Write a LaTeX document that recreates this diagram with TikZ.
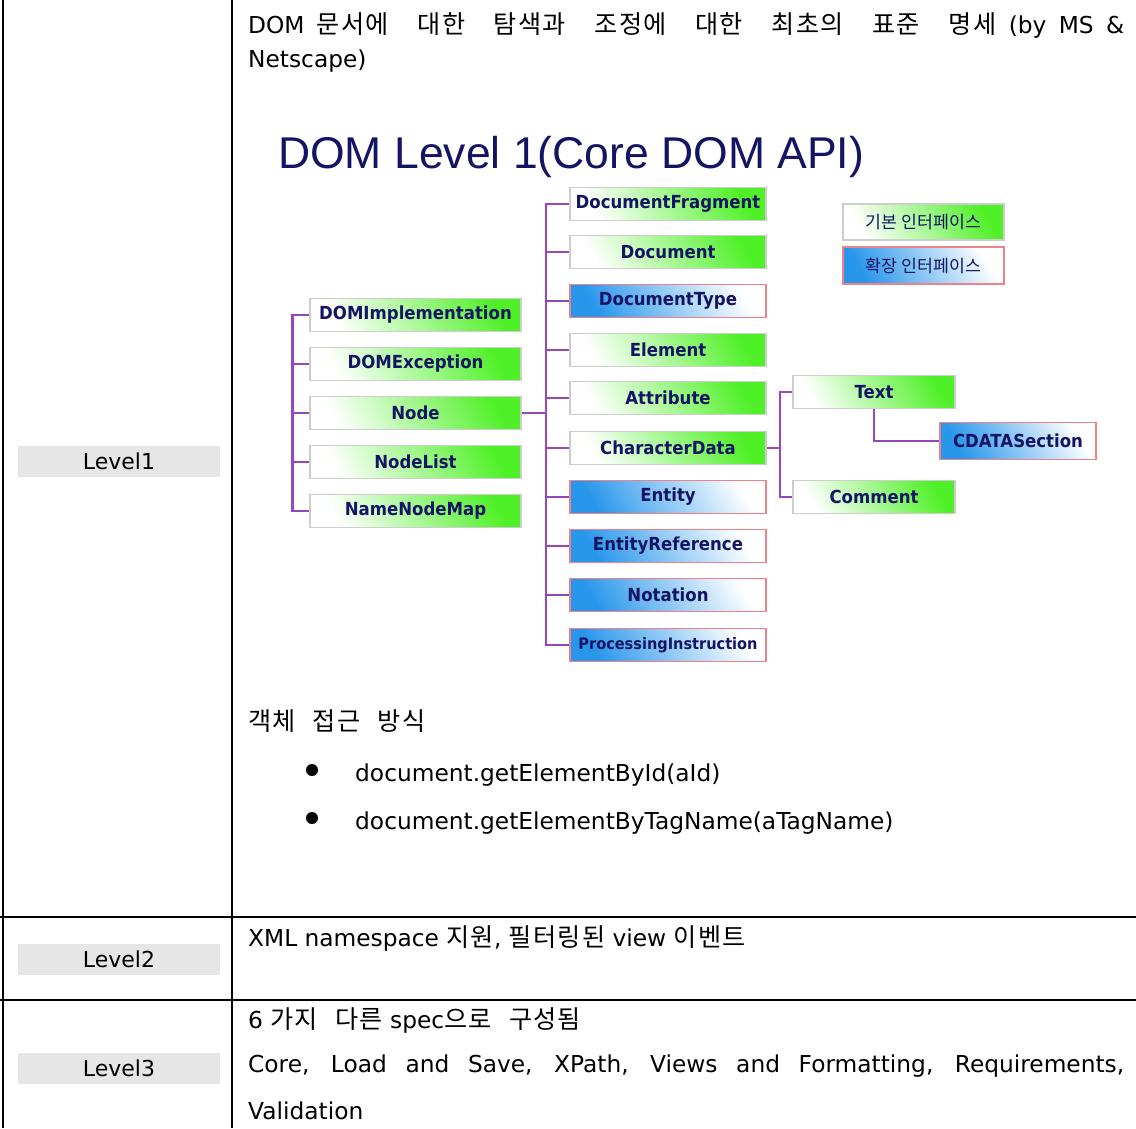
\documentclass[tikz,border=0pt]{standalone}
\usepackage{fontspec}
\setmainfont{DejaVu Sans}
\newfontfamily\krfont[Scale=1.08,WordSpace=2.5,LetterSpace=5]{Noto Sans CJK KR}
\newfontfamily\keyfont[Scale=1.08]{Noto Sans CJK KR}
\newfontfamily\boxfont[FakeStretch=0.92]{DejaVu Sans}
\newfontfamily\titlefont{Liberation Sans}
\definecolor{navy}{RGB}{20,20,100}
\definecolor{dgreen}{RGB}{80,240,40}
\definecolor{bblue}{RGB}{40,150,235}
\definecolor{pinkline}{RGB}{240,130,135}
\definecolor{boxgray}{RGB}{205,205,205}
\definecolor{purp}{RGB}{150,70,190}
\definecolor{lvlgray}{RGB}{230,230,230}
\tikzset{
  ifbox/.style={draw=boxgray, line width=1.5pt, minimum height=33pt, inner sep=0pt,
    text=navy, font=\boxfont\bfseries\fontsize{18}{18}\selectfont},
  basic/.style={ifbox, left color=white, right color=dgreen, shading angle=120},
  ext/.style={ifbox, draw=pinkline, left color=bblue, right color=white, shading angle=120},
  link/.style={draw=purp, line width=2.5pt},
  lvl/.style={fill=lvlgray, minimum width=202pt, minimum height=31pt, inner sep=0pt,
    font=\fontsize{22}{22}\selectfont},
  txt/.style={anchor=base west, inner sep=0pt, font=\fontsize{23.3}{28}\selectfont},
  rule/.style={line width=2pt}
}
\begin{document}
\begin{tikzpicture}[x=1pt,y=-1pt]
  \useasboundingbox (0,0) rectangle (1136,1128);
  \draw[rule] (3,0) -- (3,1128);
  \draw[rule] (232,0) -- (232,1128);
  \draw[rule] (0,917) -- (1136,917);
  \draw[rule] (0,1000) -- (1136,1000);

  \node[lvl] (lvone) at (119,461.5) {Level1};
  \node[lvl] (lvtwo) at (119,959.5) {Level2};
  \node[lvl] (lvthree) at (119,1068.5) {Level3};

  \node[txt] (intro) at (248,33) {\makebox[876pt][s]{DOM {\krfont 문서에 대한 탐색과 조정에 대한 최초의 표준 명세} (by MS \&}};
  \node[txt] (introb) at (248,67) {Netscape)};
  \node[txt, font=\titlefont\fontsize{44.5}{44}\selectfont, text=navy] (title) at (278,168) {DOM Level 1(Core DOM API)};

  \node[basic, minimum width=211pt] (impl) at (415.5,315) {DOMImplementation};
  \node[basic, minimum width=211pt] (exc) at (415.5,364) {DOMException};
  \node[basic, minimum width=211pt] (node) at (415.5,413) {Node};
  \node[basic, minimum width=211pt] (nlist) at (415.5,462) {NodeList};
  \node[basic, minimum width=211pt] (nmap) at (415.5,511) {NameNodeMap};

  \node[basic, minimum width=196pt] (frag) at (668,204) {DocumentFragment};
  \node[basic, minimum width=196pt] (doc) at (668,252) {Document};
  \node[ext, minimum width=196pt] (dtype) at (668,301) {DocumentType};
  \node[basic, minimum width=196pt] (elem) at (668,350) {Element};
  \node[basic, minimum width=196pt] (attr) at (668,398) {Attribute};
  \node[basic, minimum width=196pt] (chardata) at (668,448) {CharacterData};
  \node[ext, minimum width=196pt] (ent) at (668,497) {Entity};
  \node[ext, minimum width=196pt] (eref) at (668,546) {EntityReference};
  \node[ext, minimum width=196pt] (nota) at (668,595) {Notation};
  \node[ext, minimum width=196pt, font=\boxfont\bfseries\fontsize{15.8}{16}\selectfont] (pi) at (668,645) {ProcessingInstruction};

  \node[basic, minimum width=162pt] (text) at (874,392) {Text};
  \node[basic, minimum width=162pt] (comment) at (874,497) {Comment};
  \node[ext, minimum width=156pt, minimum height=37pt] (cdsec) at (1018,441) {CDATASection};

  \node[basic, minimum width=161pt, minimum height=36pt, font=\keyfont\fontsize{16}{16}\selectfont] (basickey) at (923.5,222) {기본 인터페이스};
  \node[ext, minimum width=161pt, minimum height=37pt, font=\keyfont\fontsize{16}{16}\selectfont] (extkey) at (923.5,265.5) {확장 인터페이스};

  \coordinate (spine) at (546,0);
  \coordinate (cbr) at (780,0);
  \draw[link] (impl.west) -- ++(-17,0) |- (nmap.west);
  \foreach \n in {exc,node,nlist}
    \draw[link] (\n.west) -- ++(-17,0);
  \draw[link] (node.east) -- (node.east -| spine);
  \draw[link] (frag.west) -- (frag.west -| spine) |- (pi.west);
  \foreach \n in {doc,dtype,elem,attr,chardata,ent,eref,nota}
    \draw[link] (\n.west) -- (\n.west -| spine);
  \draw[link] (chardata.east) -- (chardata.east -| cbr);
  \draw[link] (text.west) -- (text.west -| cbr) |- (comment.west);
  \draw[link] (text.south) |- (cdsec.west);

  \node[txt] (access) at (248,730) {{\krfont 객체 접근 방식}};
  \fill (312,770) circle (6pt);
  \node[txt] (byid) at (355,781) {document.getElementById(aId)};
  \fill (312,818) circle (6pt);
  \node[txt] (bytag) at (355,829) {document.getElementByTagName(aTagName)};

  \node[txt] (lvtwotext) at (248,946) {XML namespace {\krfont 지원}, {\krfont 필터링된} view {\krfont 이벤트}};
  \node[txt] (lvthreea) at (248,1028) {6 {\krfont 가지 다른} spec{\krfont 으로 구성됨}};
  \node[txt] (lvthreeb) at (248,1072) {\makebox[876pt][s]{Core, Load and Save, XPath, Views and Formatting, Requirements,}};
  \node[txt] (lvthreec) at (248,1119) {Validation};
\end{tikzpicture}
\end{document}
